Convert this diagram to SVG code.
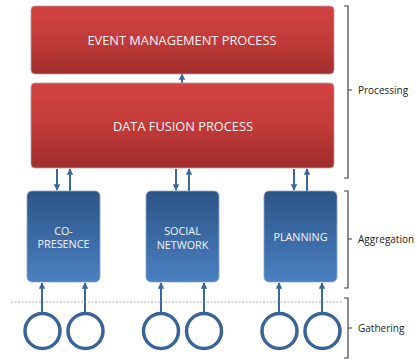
<svg xmlns="http://www.w3.org/2000/svg" width="417" height="360" viewBox="0 0 417 360">
<defs>
<linearGradient id="red" x1="0" y1="0" x2="0" y2="1">
<stop offset="0" stop-color="#d24342"/>
<stop offset="0.5" stop-color="#c23b3a"/>
<stop offset="1" stop-color="#a12d2d"/>
</linearGradient>
<linearGradient id="blue" x1="0" y1="0" x2="0" y2="1">
<stop offset="0" stop-color="#2c5486"/>
<stop offset="1" stop-color="#4a80c2"/>
</linearGradient>
<marker id="ah" viewBox="0 0 10 10" refX="9" refY="5" markerWidth="3.2" markerHeight="3.2" orient="auto" markerUnits="strokeWidth">
<path d="M0,0 L10,5 L0,10 z" fill="#3a679c"/>
</marker>
<style>
.red{fill:url(#red);stroke:#b9a0a0;stroke-width:0.8}
.blue{fill:url(#blue);stroke:#8aa6c8;stroke-width:0.8}
.w{font-family:"Open Sans","Liberation Sans",sans-serif;fill:#f4f4f4;text-anchor:middle}
.arr{stroke:#3a679c;stroke-width:2;fill:none;marker-end:url(#ah)}
.circ{fill:#fff;stroke:#3a6496;stroke-width:3.5}
.br{fill:none;stroke:#404040;stroke-width:1.2}
.lab{font-family:"Open Sans","Liberation Sans",sans-serif;font-size:10px;fill:#222}
</style>
</defs>
<rect width="417" height="360" fill="#fff"/>
<g id="connectors">
<line class="arr" x1="182" y1="83" x2="182" y2="74"/>
<line class="arr" x1="57" y1="169" x2="57" y2="190"/>
<line class="arr" x1="70" y1="191" x2="70" y2="169"/>
<line class="arr" x1="176" y1="169" x2="176" y2="190"/>
<line class="arr" x1="189" y1="191" x2="189" y2="169"/>
<line class="arr" x1="294" y1="169" x2="294" y2="190"/>
<line class="arr" x1="307" y1="191" x2="307" y2="169"/>
<line class="arr" x1="42" y1="313" x2="42" y2="283"/>
<line class="arr" x1="85" y1="313" x2="85" y2="283"/>
<line class="arr" x1="161" y1="313" x2="161" y2="283"/>
<line class="arr" x1="204" y1="313" x2="204" y2="283"/>
<line class="arr" x1="279" y1="313" x2="279" y2="283"/>
<line class="arr" x1="322" y1="313" x2="322" y2="283"/>
</g>
<line x1="11" y1="302" x2="343" y2="302" stroke="#999" stroke-width="0.8" stroke-dasharray="2,1.5"/>
<g id="event">
<rect class="red" x="31" y="6" width="303" height="68" rx="4"/>
<text class="w" x="182" y="45" font-size="12.8">EVENT MANAGEMENT PROCESS</text>
</g>
<g id="fusion">
<rect class="red" x="31" y="83" width="303" height="85" rx="4"/>
<text class="w" x="183" y="130.5" font-size="12.8">DATA FUSION PROCESS</text>
</g>
<g id="copresence">
<rect class="blue" x="27" y="191" width="73" height="91" rx="5"/>
<text class="w" x="63.5" y="234.5" font-size="10.8">CO-</text>
<text class="w" x="63.5" y="248" font-size="10.8">PRESENCE</text>
</g>
<g id="social">
<rect class="blue" x="146" y="191" width="73" height="91" rx="5"/>
<text class="w" x="182.5" y="234.5" font-size="10.8">SOCIAL</text>
<text class="w" x="182.5" y="249" font-size="10.8">NETWORK</text>
</g>
<g id="planning">
<rect class="blue" x="264" y="191" width="73" height="91" rx="5"/>
<text class="w" x="300.5" y="241" font-size="10.8">PLANNING</text>
</g>
<g id="sensors">
<circle class="circ" cx="42.5" cy="331" r="17.5"/>
<circle class="circ" cx="85.5" cy="331" r="17.5"/>
<circle class="circ" cx="161" cy="331" r="17.5"/>
<circle class="circ" cx="204" cy="331" r="17.5"/>
<circle class="circ" cx="279.5" cy="331" r="17.5"/>
<circle class="circ" cx="322.5" cy="331" r="17.5"/>
</g>
<g id="processing">
<path class="br" d="M344,6 H348 V178 H344 M348,90 H352"/>
<text class="lab" x="358" y="93.5">Processing</text>
</g>
<g id="aggregation">
<path class="br" d="M344,191 H348 V288 H344 M348,239 H352"/>
<text class="lab" x="358" y="242.5">Aggregation</text>
</g>
<g id="gathering">
<path class="br" d="M344,298 H348 V358 H344 M348,328 H352"/>
<text class="lab" x="358" y="331.5">Gathering</text>
</g>
</svg>
